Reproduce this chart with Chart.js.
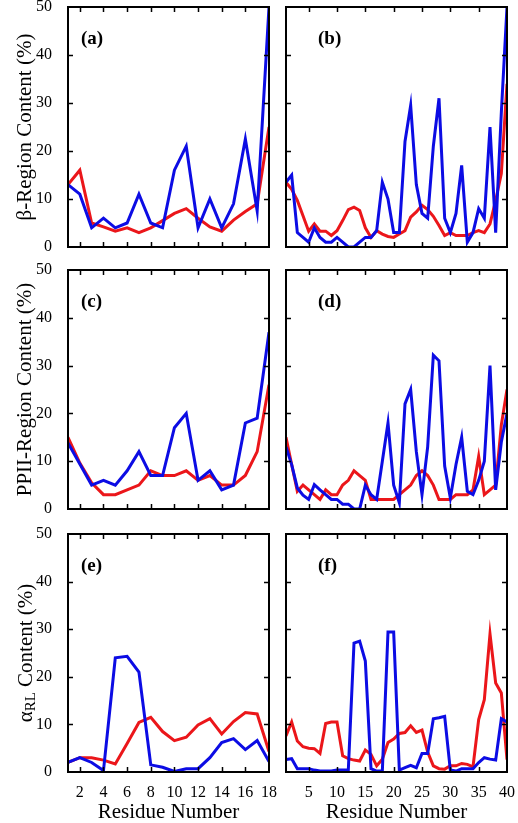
<!DOCTYPE html>
<html>
<head>
<meta charset="utf-8">
<script src="https://cdn.jsdelivr.net/npm/chart.js@4.4.1/dist/chart.umd.min.js"></script>
<style>
    html, body { margin: 0; padding: 0; background: #fff; }
    body { width: 518px; height: 823px; position: relative; overflow: hidden; }
    canvas { position: absolute; left: 0; top: 0; }
</style>
</head>
<body>
<canvas id="panelA" width="518" height="823"></canvas>
<canvas id="panelB" width="518" height="823"></canvas>
<canvas id="panelC" width="518" height="823"></canvas>
<canvas id="panelD" width="518" height="823"></canvas>
<canvas id="panelE" width="518" height="823"></canvas>
<canvas id="panelF" width="518" height="823"></canvas>
<script>
// residue numbers
const RES_18 = [1, 2, 3, 4, 5, 6, 7, 8, 9, 10, 11, 12, 13, 14, 15, 16, 17, 18];
const RES_40 = [1, 2, 3, 4, 5, 6, 7, 8, 9, 10, 11, 12, 13, 14, 15, 16, 17, 18, 19, 20,
    21, 22, 23, 24, 25, 26, 27, 28, 29, 30, 31, 32, 33, 34, 35, 36, 37, 38, 39, 40];

const Y_TICKS = [0, 10, 20, 30, 40, 50];

// (a) beta, short peptide
const A_RED = [13, 16, 5, 4.2, 3.3, 4, 3, 4, 5.5, 7, 8, 6, 4.2, 3.3, 5.6, 7.4, 9, 25];
const A_BLUE = [13, 11, 4, 6, 4, 5, 11, 5, 4, 16, 21, 4, 10, 4, 9, 22.5, 7.5, 50];

// (b) beta, long peptide
const B_RED = [13.5, 12, 9.7, 6.5, 3.3, 4.8, 3.3, 3.3, 2.4, 3.4, 5.5, 7.8, 8.3, 7.6, 4, 2, 3.4, 2.7, 2.2, 2,
    2.7, 3.4, 6.2, 7.3, 8.7, 7.8, 6.4, 4.5, 2.4, 3, 2.4, 2.4, 2.4, 3, 3.4, 3, 4.8, 9.7, 15.3, 34];
const B_BLUE = [13.5, 15, 3, 2, 1, 4, 2, 1, 1, 2, 1, 0, 0, 1, 2, 2, 3.4, 13.5, 10, 3,
    3, 22, 29.5, 13, 7, 6, 21, 31, 6, 3, 7, 17, 1, 3, 8, 6, 25, 3, 28, 50];

// (c) PPII, short peptide
const C_RED = [15, 9.6, 5.5, 3, 3, 4, 5, 8, 7, 7, 8, 6, 7, 5, 5, 7, 12, 26];
const C_BLUE = [13.8, 9.4, 5, 6, 5, 8, 12, 7, 7, 17, 20, 6, 8, 4, 5, 18, 19, 37];

// (d) PPII, long peptide
const D_RED = [15, 9.3, 3.7, 5, 4, 3, 2, 4, 3, 3, 5, 6, 8, 7, 6, 2, 2, 2, 2, 2,
    3, 4, 5, 7, 8, 7, 5, 2, 2, 2, 3, 3, 3, 4, 11, 3, 4, 5, 17.6, 25];
const D_BLUE = [13, 9.3, 4.4, 2.9, 2, 5.1, 4, 3, 2, 2, 1, 1, 0, 0, 5, 3, 2, 10, 18, 5,
    1.3, 22, 25, 12, 3, 13, 32.2, 31, 9, 2.3, 9.3, 15, 3.7, 3, 6, 10, 30, 4, 14, 20];

// (e) alpha_RL, short peptide
const E_RED = [2, 3, 3, 2.5, 1.7, 6, 10.4, 11.5, 8.5, 6.6, 7.3, 9.9, 11.2, 8, 10.6, 12.5, 12.2, 4.3];
const E_BLUE = [2, 3, 2, 0.3, 24, 24.3, 21, 1.5, 1, 0.1, 0.7, 0.7, 3, 6.2, 7, 4.7, 6.6, 2.2];

// (f) alpha_RL, long peptide
const F_RED = [7.6, 10.5, 6.5, 5.3, 5, 4.9, 3.9, 10.2, 10.5, 10.5, 3.4, 2.8, 2.5, 2.3, 4.6, 3.7, 1.3, 2.7, 6.2, 6.9,
    8.1, 8.3, 9.7, 8.3, 8.8, 4.2, 1.3, 0.7, 0.6, 1.3, 1.3, 1.8, 1.6, 1.1, 11, 15.2, 29, 18.7, 16.6, 2.6];
const F_BLUE = [2.6, 2.8, 0.7, 0.7, 0.7, 0.4, 0.2, 0.2, 0.2, 0.4, 0.4, 0.5, 27.1, 27.5, 23.3, 0.7, 0.2, 0.2, 29.4, 29.4,
    0.4, 0.9, 1.4, 0.9, 3.9, 3.9, 11.2, 11.4, 11.7, 0.4, 0.2, 0.7, 0.7, 0.7, 2, 3, 2.7, 2.5, 11.2, 10.5];

const RED = 'rgb(235, 22, 26)';
const BLUE = 'rgb(12, 12, 228)';
const SERIF = "'Liberation Serif', 'Times New Roman', serif";

const W = 518, H = 823;
const COLS = [{ left: 68, right: 269 }, { left: 286, right: 507 }];
const ROWS = [{ top: 7, bottom: 247 }, { top: 270, bottom: 509 }, { top: 534, bottom: 772 }];

const toPoints = (xs, ys) => xs.map((x, i) => ({ x, y: ys[i] }));

// frame, inward ticks, panel tag, and the subscripted y title
const framePlugin = {
    id: 'frame',
    afterDatasetsDraw(chart, args, opts) {
        const { ctx, chartArea: a, scales: { x, y } } = chart;
        ctx.save();
        ctx.strokeStyle = '#000';
        ctx.lineWidth = 1.5;
        ctx.beginPath();
        x.ticks.forEach(t => {
            if (t.value <= x.min || t.value >= x.max) return;
            const px = Math.round(x.getPixelForValue(t.value)) + 0.5;
            ctx.moveTo(px, a.bottom); ctx.lineTo(px, a.bottom - 5);
            ctx.moveTo(px, a.top); ctx.lineTo(px, a.top + 5);
        });
        y.ticks.forEach(t => {
            if (t.value <= y.min || t.value >= y.max) return;
            const py = Math.round(y.getPixelForValue(t.value)) + 0.5;
            ctx.moveTo(a.left, py); ctx.lineTo(a.left + 5, py);
            ctx.moveTo(a.right, py); ctx.lineTo(a.right - 5, py);
        });
        ctx.stroke();
        ctx.lineWidth = 2;
        ctx.strokeRect(a.left, a.top, a.right - a.left, a.bottom - a.top);

        ctx.fillStyle = '#000';
        ctx.font = `bold 19px ${SERIF}`;
        ctx.textBaseline = 'middle';
        ctx.textAlign = 'left';
        ctx.fillText(opts.tag, a.left + opts.tagDx, a.top + 32);

        if (opts.subTitle) {
            const parts = [['α', 21, 0], ['RL', 15, 5], [' Content (%)', 21, 0]];
            const widths = parts.map(([s, sz]) => { ctx.font = `${sz}px ${SERIF}`; return ctx.measureText(s).width; });
            const total = widths.reduce((s, w) => s + w, 0);
            ctx.translate(26, (a.top + a.bottom) / 2);
            ctx.rotate(-Math.PI / 2);
            let cx = -total / 2;
            parts.forEach(([s, sz, dy], i) => {
                ctx.font = `${sz}px ${SERIF}`;
                ctx.fillText(s, cx, dy);
                cx += widths[i];
            });
        }
        ctx.restore();
    }
};

function makePanel(id, col, row, xs, red, blue, tag, yTitle, subTitle) {
    const c = COLS[col], r = ROWS[row];
    const isBottom = row === 2;
    const isLeft = col === 0;
    const long = xs.length > 20;

    new Chart(document.getElementById(id), {
        type: 'line',
        data: {
            datasets: [
                { data: toPoints(xs, blue), borderColor: BLUE, borderWidth: 3, pointRadius: 0, tension: 0, fill: false },
                { data: toPoints(xs, red), borderColor: RED, borderWidth: 3, pointRadius: 0, tension: 0, fill: false }
            ]
        },
        options: {
            responsive: false,
            animation: false,
            devicePixelRatio: 1,
            events: [],
            layout: {
                padding: {
                    left: isLeft ? 0 : c.left,
                    right: W - c.right,
                    top: r.top,
                    bottom: isBottom ? 0 : H - r.bottom
                }
            },
            plugins: {
                legend: { display: false },
                tooltip: { enabled: false },
                frame: { tag, tagDx: isLeft ? 13 : 32, subTitle }
            },
            scales: {
                x: {
                    type: 'linear',
                    min: xs[0],
                    max: xs[xs.length - 1],
                    grid: { display: false },
                    border: { display: false },
                    ticks: {
                        display: isBottom,
                        stepSize: long ? 5 : 2,
                        includeBounds: false,
                        padding: 3,
                        color: '#000',
                        font: { family: SERIF, size: 16 },
                        maxRotation: 0,
                        autoSkip: false
                    },
                    title: {
                        display: isBottom,
                        text: 'Residue Number',
                        color: '#000',
                        font: { family: SERIF, size: 21, lineHeight: 1 },
                        padding: { top: 0, bottom: 0 }
                    },
                    afterFit(s) {
                        s.height = isBottom ? H - r.bottom : 0;
                        s.paddingLeft = 0; s.paddingRight = 0;
                    }
                },
                y: {
                    min: Y_TICKS[0],
                    max: Y_TICKS[Y_TICKS.length - 1],
                    afterBuildTicks(s) { s.ticks = Y_TICKS.map(v => ({ value: v })); },
                    grid: { display: false },
                    border: { display: false },
                    ticks: {
                        display: isLeft,
                        padding: 8,
                        color: '#000',
                        font: { family: SERIF, size: 16 }
                    },
                    title: {
                        display: isLeft && !!yTitle,
                        text: yTitle || '',
                        color: '#000',
                        font: { family: SERIF, size: 21, lineHeight: 1.2 },
                        padding: { top: 13, bottom: 0 }
                    },
                    afterFit(s) {
                        s.width = isLeft ? c.left : 0;
                        s.paddingTop = 0; s.paddingBottom = 0;
                    }
                }
            }
        },
        plugins: [framePlugin]
    });
}

makePanel('panelA', 0, 0, RES_18, A_RED, A_BLUE, '(a)', 'β-Region Content (%)');
makePanel('panelB', 1, 0, RES_40, B_RED, B_BLUE, '(b)');
makePanel('panelC', 0, 1, RES_18, C_RED, C_BLUE, '(c)', 'PPII-Region Content (%)');
makePanel('panelD', 1, 1, RES_40, D_RED, D_BLUE, '(d)');
makePanel('panelE', 0, 2, RES_18, E_RED, E_BLUE, '(e)', null, true);
makePanel('panelF', 1, 2, RES_40, F_RED, F_BLUE, '(f)');
</script>
</body>
</html>
